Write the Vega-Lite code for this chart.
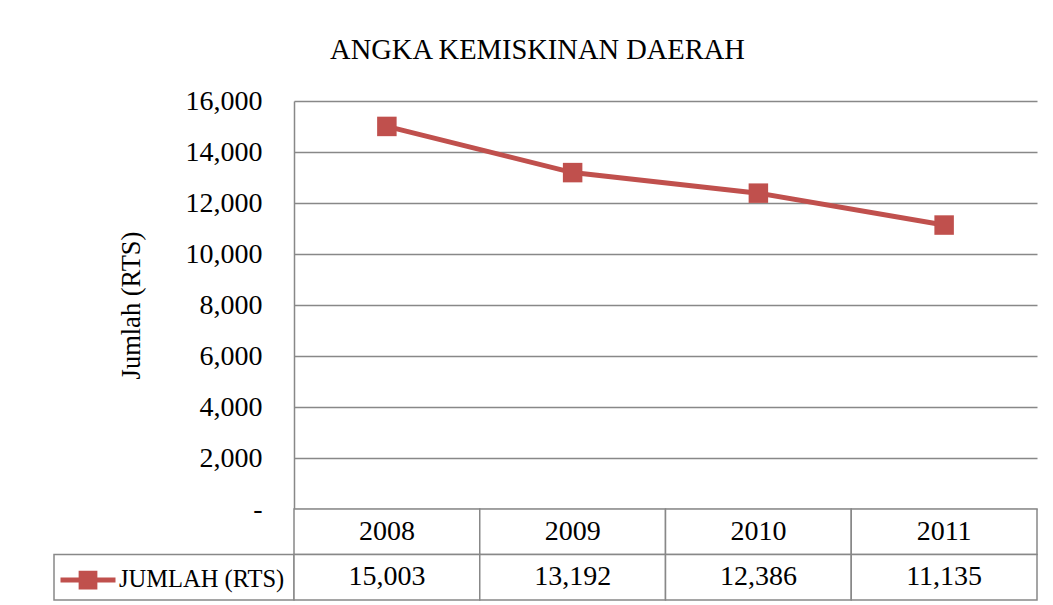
{
  "$schema": "https://vega.github.io/schema/vega-lite/v6.json",
  "background": "white",
  "padding": {"left": 53, "top": 35, "right": 16, "bottom": 7},
  "autosize": {"type": "pad"},
  "title": {
    "text": "ANGKA KEMISKINAN DAERAH",
    "font": "Liberation Serif",
    "fontSize": 28.5,
    "fontWeight": "normal",
    "color": "black",
    "anchor": "middle",
    "offset": 23,
    "dx": -8
  },
  "datasets": {
    "rts": [
      {"tahun": "2008", "jumlah": 15003},
      {"tahun": "2009", "jumlah": 13192},
      {"tahun": "2010", "jumlah": 12386},
      {"tahun": "2011", "jumlah": 11135}
    ]
  },
  "columns": 2,
  "spacing": 0,
  "bounds": "flush",
  "resolve": {"scale": {"color": "independent"}, "legend": {"color": "independent"}},
  "concat": [
    {
      "width": 240,
      "height": 408,
      "data": {"values": []},
      "mark": {"type": "point", "opacity": 0},
      "encoding": {}
    },
    {
      "width": 743,
      "height": 408,
      "data": {"name": "rts"},
      "encoding": {
        "x": {"field": "tahun", "type": "ordinal", "scale": {"type": "point", "padding": 0.5}, "axis": null},
        "y": {
          "field": "jumlah",
          "type": "quantitative",
          "scale": {"domain": [0, 16000], "nice": false},
          "axis": {
            "values": [0, 2000, 4000, 6000, 8000, 10000, 12000, 14000, 16000],
            "labelExpr": "datum.value == 0 ? '-' : format(datum.value, ',')",
            "title": "Jumlah (RTS)",
            "titleFont": "Liberation Serif",
            "titleFontSize": 26.5,
            "titleFontWeight": "normal",
            "titleColor": "black",
            "titlePadding": 40,
            "labelFont": "Liberation Serif",
            "labelFontSize": 28,
            "labelColor": "black",
            "labelPadding": 32,
            "ticks": false,
            "grid": true,
            "gridColor": "#888888",
            "gridWidth": 1.5,
            "domain": true,
            "domainColor": "#888888",
            "domainWidth": 1.5
          }
        }
      },
      "layer": [
        {"mark": {"type": "line", "color": "#c0504d", "strokeWidth": 5}},
        {
          "mark": {"type": "point", "shape": "square", "filled": true, "size": 380, "opacity": 1},
          "encoding": {
            "color": {
              "datum": "JUMLAH (RTS)",
              "type": "nominal",
              "scale": {"range": ["#c0504d"]},
              "legend": {
                "orient": "none",
                "legendX": -236,
                "legendY": 449,
                "title": null,
                "padding": 0,
                "symbolType": "M-1,0H1M-0.25,-0.25H0.25V0.25H-0.25Z",
                "symbolSize": 3025,
                "symbolStrokeWidth": 5,
                "symbolFillColor": "#c0504d",
                "symbolStrokeColor": "#c0504d",
                "symbolOpacity": 1,
                "labelFont": "Liberation Serif",
                "labelFontSize": 24.5,
                "labelColor": "black",
                "labelOffset": 1,
                "labelLimit": 0
              }
            }
          }
        }
      ]
    },
    {
      "width": 240,
      "height": 91,
      "data": {"values": [{"baris": "nilai"}]},
      "mark": {"type": "rect", "filled": false, "stroke": "#888888", "strokeWidth": 1.5},
      "encoding": {
        "y": {"field": "baris", "type": "nominal", "scale": {"domain": ["tahun", "nilai"], "paddingInner": 0, "paddingOuter": 0}, "axis": null}
      }
    },
    {
      "width": 743,
      "height": 91,
      "data": {"name": "rts"},
      "encoding": {
        "x": {"field": "tahun", "type": "nominal", "scale": {"paddingInner": 0, "paddingOuter": 0}, "axis": null}
      },
      "layer": [
        {
          "mark": {"type": "rect", "fill": "white", "stroke": "#888888", "strokeWidth": 1.5},
          "encoding": {"y": {"datum": "tahun", "type": "nominal", "scale": {"domain": ["tahun", "nilai"], "paddingInner": 0, "paddingOuter": 0}, "axis": null}}
        },
        {
          "mark": {"type": "rect", "fill": "white", "stroke": "#888888", "strokeWidth": 1.5},
          "encoding": {"y": {"datum": "nilai", "type": "nominal"}}
        },
        {
          "mark": {"type": "text", "font": "Liberation Serif", "fontSize": 28, "color": "black", "baseline": "middle"},
          "encoding": {"y": {"datum": "tahun", "type": "nominal"}, "text": {"field": "tahun"}}
        },
        {
          "mark": {"type": "text", "font": "Liberation Serif", "fontSize": 28, "color": "black", "baseline": "middle"},
          "encoding": {"y": {"datum": "nilai", "type": "nominal"}, "text": {"field": "jumlah", "type": "quantitative", "format": ","}}
        }
      ]
    }
  ],
  "config": {
    "view": {"stroke": null},
    "font": "Liberation Serif"
  }
}
